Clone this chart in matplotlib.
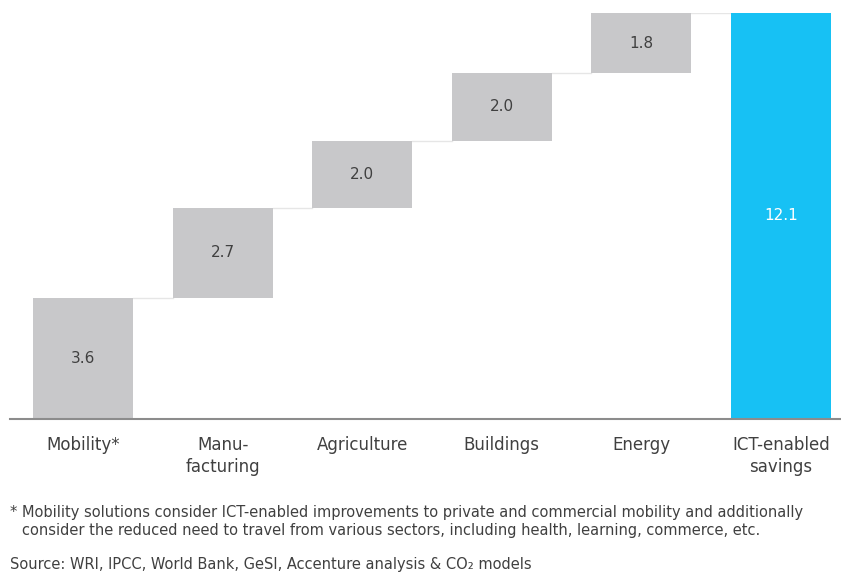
import matplotlib
matplotlib.use("Agg")
import matplotlib.pyplot as plt
import numpy as np

categories = ["Mobility*", "Manu-\nfacturing", "Agriculture", "Buildings", "Energy", "ICT-enabled\nsavings"]
values = [3.6, 2.7, 2.0, 2.0, 1.8]
total = 12.1
value_labels = ["3.6", "2.7", "2.0", "2.0", "1.8", "12.1"]

footnote_1 = "* Mobility solutions consider ICT-enabled improvements to private and commercial mobility and additionally"
footnote_2 = "consider the reduced need to travel from various sectors, including health, learning, commerce, etc."
source = "Source: WRI, IPCC, World Bank, GeSI, Accenture analysis & CO\u2082 models"

plt.rcParams['font.family'] = ['DejaVu Sans']

fig = plt.figure(figsize=(8.41, 5.74), dpi=100)
ax = fig.add_axes([10/841, (574-419)/574, 831/841, 406/574])

gray = "#c8c8ca"
blue = "#17c1f4"
width = 0.715
x = np.arange(len(categories))
bottoms = np.concatenate([[0], np.cumsum(values)[:-1]])
ax.bar(x[:-1], values, bottom=bottoms, width=width, color=gray, edgecolor='none', zorder=2)
ax.bar(x[-1], total, bottom=0, width=width, color=blue, edgecolor='none', zorder=2)

tops = np.cumsum(values)
for i in range(len(values)):
    ax.plot([x[i] + width/2, x[i+1] - width/2], [tops[i], tops[i]], color="#e6e6e6", lw=1, zorder=1)

for i in range(len(values)):
    ax.text(x[i], bottoms[i] + values[i]/2, value_labels[i], ha='center', va='center',
            fontsize=11, color="#404040")
ax.text(x[-1], total/2, value_labels[-1], ha='center', va='center', fontsize=11, color="white")

ax.set_xlim(-0.523, 5.43)
ax.set_ylim(0, total)
for s in ['top', 'right', 'left']:
    ax.spines[s].set_visible(False)
ax.spines['bottom'].set_color("#8c8c8c")
ax.spines['bottom'].set_linewidth(1.5)
ax.set_yticks([])
ax.set_xticks(x)
ax.set_xticklabels(categories, fontsize=12, color="#404040", linespacing=1.32)
ax.tick_params(axis='x', length=0, pad=12)

fs = 10.5
fig.text(10/841, 1 - 512/574, footnote_1, fontsize=fs, color="#404040", va='center', ha='left')
fig.text(22/841, 1 - 531/574, footnote_2, fontsize=fs, color="#404040", va='center', ha='left')
fig.text(10/841, 1 - 564/574, source, fontsize=fs, color="#404040", va='center', ha='left')

fig.savefig("out.png", dpi=100)
